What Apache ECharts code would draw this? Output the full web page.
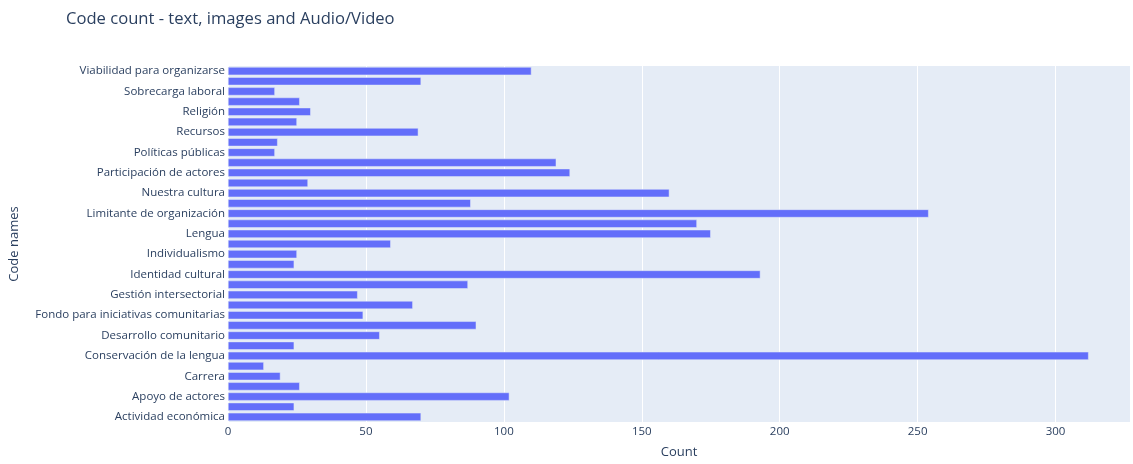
<!DOCTYPE html>
<html>
<head>
<meta charset="utf-8">
<script src="https://cdn.jsdelivr.net/npm/echarts@6/dist/echarts.min.js"></script>
<style>
html,body{margin:0;padding:0;background:#fff;}
#chart{width:1133px;height:464px;}
</style>
</head>
<body>
<div id="chart"></div>
<script>
// Categories from bottom to top (alphabetical); every other one is labelled in the reference
const codeNames = [
  "Actividad económica", "Alianzas",
  "Apoyo de actores", "Autonomía",
  "Carrera", "Comunidad",
  "Conservación de la lengua", "Cosmovisión",
  "Desarrollo comunitario", "Educación",
  "Fondo para iniciativas comunitarias", "Gestión comunitaria",
  "Gestión intersectorial", "Gobernanza",
  "Identidad cultural", "Identidad territorial",
  "Individualismo", "Interculturalidad",
  "Lengua", "Liderazgo",
  "Limitante de organización", "Migración",
  "Nuestra cultura", "Organización comunitaria",
  "Participación de actores", "Pertenencia",
  "Políticas públicas", "Racismo",
  "Recursos", "Redes de apoyo",
  "Religión", "Salud",
  "Sobrecarga laboral", "Territorio",
  "Viabilidad para organizarse"
];
const counts = [
  70, 24,
  102, 26,
  19, 13,
  312, 24,
  55, 90,
  49, 67,
  47, 87,
  193, 24,
  25, 59,
  175, 170,
  254, 88,
  160, 29,
  124, 119,
  17, 18,
  69, 25,
  30, 26,
  17, 70,
  110
];
const xTicks = [0, 50, 100, 150, 200, 250, 300];

const font = '"Open Sans", "DejaVu Sans", sans-serif';
const chart = echarts.init(document.getElementById('chart'), null, {renderer: 'canvas'});
chart.setOption({
  animation: false,
  backgroundColor: '#ffffff',
  title: {
    text: 'Code count - text, images and Audio/Video',
    left: 61, top: 6,
    textStyle: {fontFamily: font, fontSize: 16.6, fontWeight: 'normal', color: '#2a3f5f'}
  },
  grid: {
    left: 227, right: 0, top: 66, bottom: 37,
    show: true, backgroundColor: '#E5ECF6', borderWidth: 0
  },
  xAxis: {
    type: 'value',
    min: 0, max: 327, interval: 50,
    name: 'Count', nameLocation: 'middle', nameGap: 24,
    nameTextStyle: {fontFamily: font, fontSize: 13, color: '#2a3f5f'},
    axisLine: {show: false}, axisTick: {show: false},
    axisLabel: {
      fontFamily: font, fontSize: 11.5, color: '#2a3f5f', margin: 4,
      formatter: v => (xTicks.indexOf(v) >= 0 ? String(v) : '')
    },
    splitLine: {show: true, lineStyle: {color: '#ffffff', width: 1}}
  },
  yAxis: {
    type: 'category',
    data: codeNames,
    name: 'Code names', nameLocation: 'middle', nameGap: 207,
    nameTextStyle: {fontFamily: font, fontSize: 13, color: '#2a3f5f'},
    axisLine: {show: false}, axisTick: {show: false},
    axisLabel: {fontFamily: font, fontSize: 11.5, color: '#2a3f5f', interval: 1, margin: 3},
    splitLine: {show: false}
  },
  series: [{
    type: 'bar',
    data: counts,
    barCategoryGap: '20%',
    itemStyle: {color: '#636efa', borderColor: '#E5ECF6', borderWidth: 0.5}
  }]
});
</script>
</body>
</html>
